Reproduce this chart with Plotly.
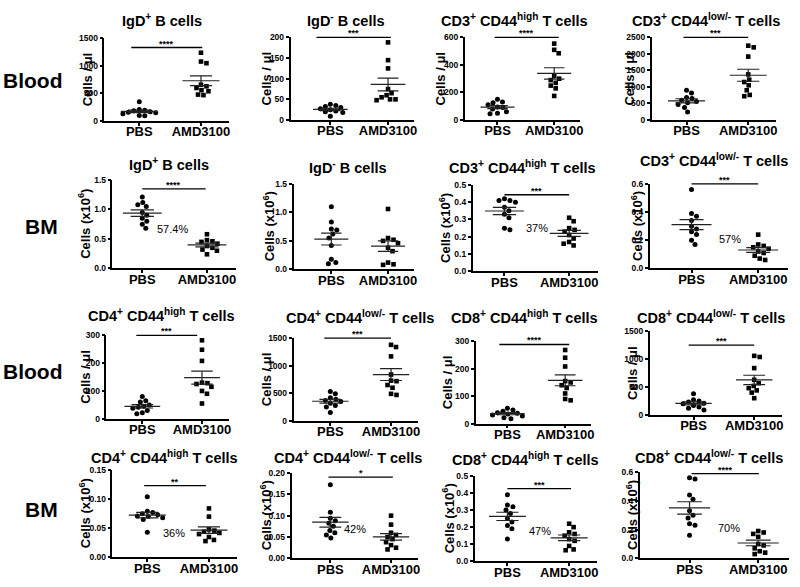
import numpy as np
import plotly.graph_objects as go

# ---------------- data ----------------
categories = ["PBS", "AMD3100"]
row_labels = ["Blood", "BM", "Blood", "BM"]

panel_titles = [
    "IgD<sup>+</sup> B cells", "IgD<sup>-</sup> B cells",
    "CD3<sup>+</sup> CD44<sup>high</sup> T cells", "CD3<sup>+</sup> CD44<sup>low/-</sup> T cells",
    "IgD<sup>+</sup> B cells", "IgD<sup>-</sup> B cells",
    "CD3<sup>+</sup> CD44<sup>high</sup> T cells", "CD3<sup>+</sup> CD44<sup>low/-</sup> T cells",
    "CD4<sup>+</sup> CD44<sup>high</sup> T cells", "CD4<sup>+</sup> CD44<sup>low/-</sup> T cells",
    "CD8<sup>+</sup> CD44<sup>high</sup> T cells", "CD8<sup>+</sup> CD44<sup>low/-</sup> T cells",
    "CD4<sup>+</sup> CD44<sup>high</sup> T cells", "CD4<sup>+</sup> CD44<sup>low/-</sup> T cells",
    "CD8<sup>+</sup> CD44<sup>high</sup> T cells", "CD8<sup>+</sup> CD44<sup>low/-</sup> T cells",
]
blood_title = "Cells / \u03bcl"
bm_title = "Cells (x10<sup>6</sup>)"

y_max = [1500, 200, 600, 2500,
         1.5, 1.5, 0.5, 0.6,
         300, 1500, 300, 1500,
         0.15, 0.20, 0.5, 0.6]
y_dtick = [500, 50, 200, 500,
           0.5, 0.5, 0.1, 0.2,
           100, 500, 100, 500,
           0.05, 0.05, 0.1, 0.2]
y_format = ["d", "d", "d", "d",
            ".1f", ".1f", ".1f", ".1f",
            "d", "d", "d", "d",
            ".2f", ".2f", ".1f", ".1f"]
stars = ["****", "***", "****", "***",
         "****", "", "***", "***",
         "***", "***", "****", "***",
         "**", "*", "***", "****"]
percent_labels = ["", "", "", "",
                  "57.4%", "", "37%", "57%",
                  "", "", "", "",
                  "36%", "42%", "47%", "70%"]

# Blood (cells / ul)
blood_igd_pos_pbs = [350, 210, 195, 185, 170, 160, 150, 130, 100, 95]
blood_igd_pos_amd = [1240, 1080, 1050, 660, 630, 600, 560, 540, 480, 470]
blood_igd_neg_pbs = [38, 35, 33, 30, 27, 25, 22, 20, 18, 9]
blood_igd_neg_amd = [188, 145, 125, 75, 65, 60, 55, 50, 48, 50]
blood_cd3_high_pbs = [150, 130, 125, 110, 95, 90, 80, 60, 50, 45]
blood_cd3_high_amd = [555, 510, 485, 320, 300, 290, 270, 250, 230, 175]
blood_cd3_low_pbs = [900, 820, 680, 650, 600, 560, 520, 470, 380, 240]
blood_cd3_low_amd = [2250, 2200, 1920, 1380, 1220, 1150, 1050, 900, 760, 720]
# BM (x10^6)
bm_igd_pos_pbs = [1.21, 1.12, 1.08, 1.05, 0.95, 0.90, 0.85, 0.80, 0.75, 0.68]
bm_igd_pos_amd = [0.58, 0.48, 0.46, 0.45, 0.42, 0.38, 0.35, 0.32, 0.30, 0.24]
bm_igd_neg_pbs = [1.10, 0.83, 0.71, 0.69, 0.62, 0.55, 0.42, 0.18, 0.12, 0.10]
bm_igd_neg_amd = [1.06, 0.55, 0.52, 0.50, 0.46, 0.38, 0.32, 0.12, 0.09, 0.08]
bm_cd3_high_pbs = [0.42, 0.41, 0.41, 0.40, 0.37, 0.35, 0.33, 0.31, 0.25, 0.24]
bm_cd3_high_amd = [0.31, 0.29, 0.25, 0.24, 0.23, 0.21, 0.19, 0.17, 0.16, 0.15]
bm_cd3_low_pbs = [0.56, 0.39, 0.37, 0.34, 0.30, 0.28, 0.26, 0.24, 0.20, 0.17]
bm_cd3_low_amd = [0.24, 0.17, 0.16, 0.15, 0.14, 0.12, 0.11, 0.09, 0.07, 0.06]
# Blood (cells / ul)
blood_cd4_high_pbs = [80, 65, 60, 50, 45, 42, 38, 30, 22, 18]
blood_cd4_high_amd = [282, 248, 208, 130, 128, 125, 115, 100, 90, 55]
blood_cd4_low_pbs = [530, 490, 420, 390, 370, 350, 320, 280, 250, 150]
blood_cd4_low_amd = [1380, 1340, 1170, 840, 730, 720, 650, 600, 490, 470]
blood_cd8_high_pbs = [56, 50, 45, 40, 38, 35, 32, 28, 22, 18]
blood_cd8_high_amd = [268, 240, 208, 155, 150, 140, 130, 110, 90, 85]
blood_cd8_low_pbs = [380, 270, 250, 230, 210, 200, 170, 140, 120, 90]
blood_cd8_low_amd = [1060, 1040, 840, 630, 570, 520, 480, 440, 400, 300]
# BM (x10^6)
bm_cd4_high_pbs = [0.104, 0.079, 0.077, 0.075, 0.073, 0.071, 0.070, 0.068, 0.065, 0.043]
bm_cd4_high_amd = [0.084, 0.070, 0.048, 0.046, 0.044, 0.042, 0.040, 0.035, 0.030, 0.028]
bm_cd4_low_pbs = [0.172, 0.108, 0.094, 0.088, 0.082, 0.075, 0.065, 0.060, 0.055, 0.048]
bm_cd4_low_amd = [0.100, 0.079, 0.060, 0.055, 0.050, 0.045, 0.038, 0.031, 0.025, 0.021]
bm_cd8_high_pbs = [0.39, 0.33, 0.32, 0.30, 0.28, 0.25, 0.23, 0.21, 0.19, 0.13]
bm_cd8_high_amd = [0.22, 0.20, 0.17, 0.16, 0.15, 0.13, 0.12, 0.09, 0.07, 0.065]
bm_cd8_low_pbs = [0.56, 0.55, 0.44, 0.41, 0.33, 0.30, 0.28, 0.24, 0.23, 0.16]
bm_cd8_low_amd = [0.19, 0.18, 0.17, 0.15, 0.10, 0.09, 0.07, 0.05, 0.04, 0.03]

pbs_sets = [blood_igd_pos_pbs, blood_igd_neg_pbs, blood_cd3_high_pbs, blood_cd3_low_pbs,
            bm_igd_pos_pbs, bm_igd_neg_pbs, bm_cd3_high_pbs, bm_cd3_low_pbs,
            blood_cd4_high_pbs, blood_cd4_low_pbs, blood_cd8_high_pbs, blood_cd8_low_pbs,
            bm_cd4_high_pbs, bm_cd4_low_pbs, bm_cd8_high_pbs, bm_cd8_low_pbs]
amd_sets = [blood_igd_pos_amd, blood_igd_neg_amd, blood_cd3_high_amd, blood_cd3_low_amd,
            bm_igd_pos_amd, bm_igd_neg_amd, bm_cd3_high_amd, bm_cd3_low_amd,
            blood_cd4_high_amd, blood_cd4_low_amd, blood_cd8_high_amd, blood_cd8_low_amd,
            bm_cd4_high_amd, bm_cd4_low_amd, bm_cd8_high_amd, bm_cd8_low_amd]

# ---------------- layout geometry (pixels) ----------------
W, H = 800, 587
# y-axis x, PBS x, AMD x, plot top, plot bottom
geom = [
    (105, 140, 202, 34, 118), (292, 332, 390, 33, 117), (467, 500, 557, 33, 117), (655, 690, 752, 33, 117),
    (113, 143, 208, 178, 268), (295, 333, 390, 182, 269), (475, 507, 572, 183, 271), (653, 695, 762, 182, 268),
    (107, 143, 203, 336, 421), (295, 332, 393, 339, 423), (478, 510, 568, 342, 426), (653, 697, 758, 332, 417),
    (113, 148, 210, 473, 562), (293, 332, 393, 476, 563), (477, 510, 572, 479, 566), (643, 693, 762, 475, 563),
]
title_pos = [(163, 15), (348, 15), (517, 15), (710, 15),
             (170, 162), (350, 165), (525, 165), (718, 158),
             (162, 315), (362, 317), (527, 317), (715, 317),
             (165, 460), (350, 460), (528, 462), (713, 460)]
ytitle_x = [88, 268, 443, 633, 85, 270, 447, 640, 85, 268, 450, 635, 85, 267, 450, 635]
bar_frac = [0.89, 1.0, 1.0, 1.0, 0.9, None, 0.886, 1.0,
            1.0, 1.0, 0.96, 0.835, 0.82, 0.95, 0.85, 0.98]
bar_x = [(-0.13, 1.02), (-0.24, 1.05), (-0.05, 1.08), (-0.05, 1.0),
         (0.0, 0.98), (0, 1), (0.0, 1.0), (0.0, 1.0),
         (-0.1, 0.92), (-0.1, 1.0), (-0.14, 1.07), (-0.08, 1.0),
         (-0.05, 0.95), (-0.03, 1.03), (0.0, 1.03), (0.03, 1.01)]
pct_pos = [None] * 4 + [(0.46, 0.45), None, (0.5, 0.5), (0.57, 0.35)] + [None] * 4 + \
          [(0.43, 0.28), (0.41, 0.345), (0.53, 0.36), (0.58, 0.35)]
row_label_pos = [(33, 77), (42, 225), (33, 373), (42, 513)]

FONT = "Arial, Liberation Sans, sans-serif"


def swarm(vals, px_per_unit, px_per_cat, diam=5.4):
    vals = np.asarray(vals, dtype=float)
    order = np.argsort(-vals)
    placed = []
    offs = np.zeros(len(vals))
    for i in order:
        y = vals[i] * px_per_unit
        chosen = 0.0
        for k in range(0, 80):
            cands = [0.0] if k == 0 else [k * 0.5, -k * 0.5]
            ok = None
            for x in cands:
                if all((x - px) ** 2 + (y - py) ** 2 >= diam ** 2 for px, py in placed):
                    ok = x
                    break
            if ok is not None:
                chosen = ok
                break
        placed.append((chosen, y))
        offs[i] = chosen / px_per_cat
    return offs


fig = go.Figure()
layout = dict(
    width=W, height=H, margin=dict(l=0, r=0, t=0, b=0),
    paper_bgcolor="white", plot_bgcolor="white", showlegend=False,
    font=dict(family=FONT, color="black"),
)
annotations = []
shapes = []

for k in range(16):
    ax, P, A, top, bot = geom[k]
    s = A - P
    x1 = A + 0.45 * s
    xr = [-(P - ax) / s, 1 + (x1 - A) / s]
    idx = "" if k == 0 else str(k + 1)
    xa, ya = "x" + idx, "y" + idx
    px_per_unit = (bot - top) / y_max[k]

    layout["xaxis" + idx] = dict(
        domain=[ax / W, x1 / W], range=xr, anchor=ya,
        tickvals=[0, 1], ticktext=categories, showgrid=False, zeroline=False,
        showline=True, linecolor="black", linewidth=1.5,
        ticks="outside", ticklen=3, tickwidth=1.5, tickcolor="black",
        ticklabelstandoff=-5,
        tickfont=dict(size=13, weight="bold", family=FONT), fixedrange=True,
    )
    layout["yaxis" + idx] = dict(
        domain=[1 - bot / H, 1 - top / H], range=[0, y_max[k]], anchor=xa,
        dtick=y_dtick[k], tick0=0, tickformat=y_format[k], showgrid=False, zeroline=False,
        showline=True, linecolor="black", linewidth=1.5,
        ticks="outside", ticklen=3, tickwidth=1.5, tickcolor="black",
        tickfont=dict(size=8.5, weight="bold", family=FONT), fixedrange=True,
    )

    for c, (vals, sym) in enumerate([(pbs_sets[k], "circle"), (amd_sets[k], "square")]):
        vals = np.asarray(vals, dtype=float)
        offs = swarm(vals, px_per_unit, s)
        fig.add_trace(go.Scatter(
            x=c + offs, y=vals, mode="markers", xaxis=xa, yaxis=ya,
            marker=dict(symbol=sym, size=5 if sym == "circle" else 4.6, color="black",
                        line=dict(width=0)),
            cliponaxis=False, hoverinfo="y",
        ))
        m = vals.mean()
        se = vals.std(ddof=1) / np.sqrt(len(vals))
        fig.add_trace(go.Scatter(
            x=[c - 0.3, c + 0.3, None, c - 0.18, c + 0.18, None, c - 0.18, c + 0.18, None, c, c],
            y=[m, m, None, m + se, m + se, None, m - se, m - se, None, m - se, m + se],
            mode="lines", xaxis=xa, yaxis=ya, line=dict(color="#222", width=1.2),
            hoverinfo="skip",
        ))

    tx, ty = title_pos[k]
    annotations.append(dict(
        text=panel_titles[k], x=tx / W, y=1 - ty / H, xref="paper", yref="paper",
        showarrow=False, xanchor="center", yanchor="middle",
        font=dict(size=14.5, weight="bold", family=FONT),
    ))
    annotations.append(dict(
        text=blood_title if (k // 4) % 2 == 0 else bm_title,
        x=ytitle_x[k] / W, y=1 - (top + bot) / 2 / H, xref="paper", yref="paper",
        showarrow=False, textangle=-90, xanchor="center", yanchor="middle",
        font=dict(size=13, weight="bold", family=FONT),
    ))
    if stars[k]:
        b0, b1 = bar_x[k]
        shapes.append(dict(type="line", xref=xa, yref=ya + " domain", x0=b0, x1=b1,
                           y0=bar_frac[k], y1=bar_frac[k], line=dict(color="black", width=1.3)))
        annotations.append(dict(
            text=stars[k], x=(b0 + b1) / 2, y=bar_frac[k], xref=xa, yref=ya + " domain",
            showarrow=False, xanchor="center", yanchor="bottom", yshift=-3,
            font=dict(size=9, weight="bold", family=FONT),
        ))
    if percent_labels[k]:
        px_, py_ = pct_pos[k]
        annotations.append(dict(
            text=percent_labels[k], x=px_, y=py_, xref=xa, yref=ya + " domain",
            showarrow=False, xanchor="center", yanchor="middle",
            font=dict(size=11, family=FONT),
        ))

for r, lab in enumerate(row_labels):
    lx, ly = row_label_pos[r]
    annotations.append(dict(
        text=lab, x=lx / W, y=1 - ly / H, xref="paper", yref="paper", showarrow=False,
        xanchor="center", yanchor="middle", font=dict(size=21, weight="bold", family=FONT),
    ))

layout["annotations"] = annotations
layout["shapes"] = shapes
fig.update_layout(**layout)
fig.write_html("out.html", config={"displayModeBar": False},
               post_script="document.body.style.margin='0';document.body.style.overflow='hidden';")
